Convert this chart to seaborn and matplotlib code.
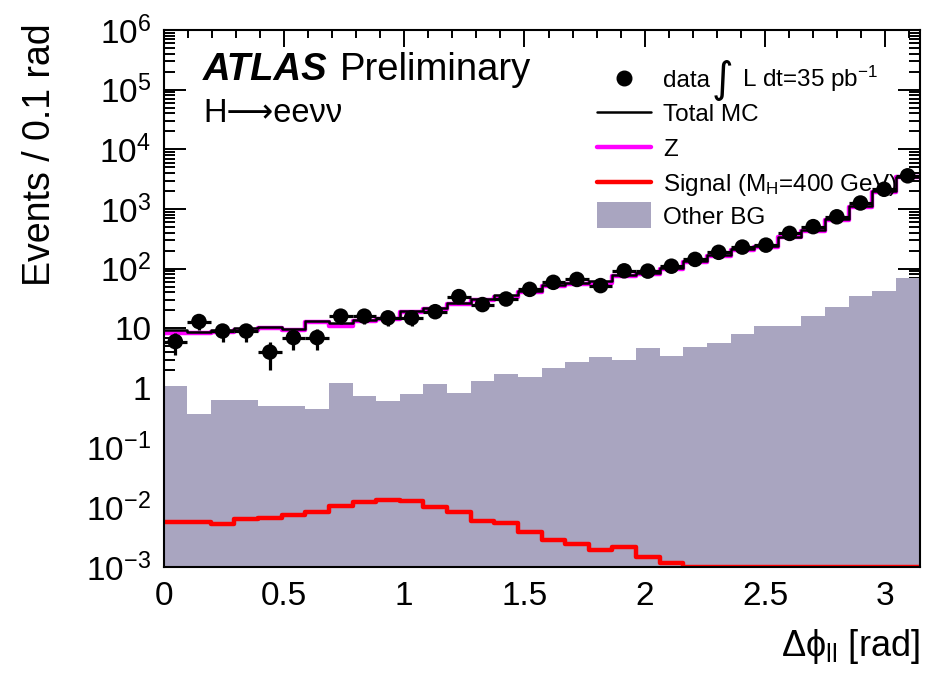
import numpy as np
import pandas as pd
import matplotlib
matplotlib.use("Agg")
import matplotlib.pyplot as plt
import seaborn as sns
from matplotlib.ticker import LogLocator, MultipleLocator, FuncFormatter, NullFormatter
from matplotlib.lines import Line2D
from matplotlib.patches import Rectangle

# ---------------- data ----------------
n_bins = 32
x_min, x_max = 0.0, np.pi

data_counts = [6, 13, 9, 9, 4, 7, 7, 16, 16, 15, 15, 19, 34, 25, 31, 45,
               59, 66, 52, 92, 91, 110, 143, 188, 230, 248, 390, 506, 740, 1260, 2140, 3600]
z_bkg = [8.4, 8.4, 8.8, 9.35, 10.2, 9.35, 12.6, 11.0, 13.2, 14.2, 18.6, 20.8, 25.5, 29.8, 33.8, 41,
         52, 55, 58, 75, 81, 98, 127, 162, 205, 228, 334, 432, 650, 1090, 1950, 3380]
other_bg = [1.09, 0.37, 0.62, 0.62, 0.49, 0.50, 0.44, 1.2, 0.73, 0.61, 0.80, 1.15, 0.83, 1.29, 1.72, 1.52,
            2.14, 2.7, 3.3, 2.9, 4.7, 3.4, 4.9, 5.7, 8.0, 10.8, 10.8, 16.3, 23, 35, 42.6, 69]
signal = [0.0056, 0.0056, 0.0053, 0.0063, 0.0066, 0.0075, 0.0085, 0.0107, 0.0122, 0.0131, 0.0126,
          0.0103, 0.0084, 0.0058, 0.0055, 0.0039, 0.0028, 0.0024, 0.0019, 0.0022, 0.00146, 0.00116,
          0, 0, 0, 0, 0, 0, 0, 0, 0, 0]

x_ticks = [0, 0.5, 1, 1.5, 2, 2.5, 3]
x_tick_labels = ["0", "0.5", "1", "1.5", "2", "2.5", "3"]
y_min, y_max = 1e-3, 1e6

legend_labels = ["data", "Total MC", "Z", r"Signal (M$_{\mathrm{H}}$=400 GeV)", "Other BG"]
lumi_label = "L dt=35 pb$^{-1}$"

# ---------------- style ----------------
sns.set_theme(style="ticks")
plt.rcParams["font.family"] = ["Liberation Sans", "DejaVu Sans"]
plt.rcParams["mathtext.fontset"] = "custom"
plt.rcParams["mathtext.rm"] = "Liberation Sans"
plt.rcParams["mathtext.it"] = "Liberation Sans:italic"
plt.rcParams["mathtext.bf"] = "Liberation Sans:bold"
for k in ["text.color", "axes.labelcolor", "xtick.color", "ytick.color", "axes.edgecolor"]:
    plt.rcParams[k] = "black"

gray = "#a9a5c0"
magenta = "#ff00ff"
red = "#ff0000"

edges = np.linspace(x_min, x_max, n_bins + 1)
bin_edges = [float(e) for e in edges]
centers = 0.5 * (edges[:-1] + edges[1:])
half_w = 0.5 * (edges[1:] - edges[:-1])

df = pd.DataFrame({
    "x": centers,
    "data": np.array(data_counts, float),
    "z": np.array(z_bkg, float),
    "other": np.array(other_bg, float),
    "signal": np.array(signal, float),
})
df["total"] = df["z"] + df["other"]
df["signal_draw"] = df["signal"].clip(lower=y_min)

W, H = 930, 676
fig = plt.figure(figsize=(W / 100, H / 100), dpi=100)
ax = fig.add_axes([163.5 / W, 1 - 567 / H, (919.5 - 163.5) / W, (567 - 30) / H])

sns.histplot(data=df, x="x", weights="other", bins=bin_edges, element="step", fill=True,
             color=gray, alpha=1, linewidth=0, ax=ax)
sns.histplot(data=df, x="x", weights="signal_draw", bins=bin_edges, element="step", fill=False,
             color=red, linewidth=3.2, ax=ax)
sns.histplot(data=df, x="x", weights="z", bins=bin_edges, element="step", fill=False,
             color=magenta, linewidth=3.2, ax=ax)
sns.histplot(data=df, x="x", weights="total", bins=bin_edges, element="step", fill=False,
             color="black", linewidth=1.8, ax=ax)

ax.errorbar(df["x"], df["data"], xerr=half_w, yerr=np.sqrt(df["data"]), fmt="none",
            ecolor="black", elinewidth=2.3, capsize=0, zorder=5)
sns.scatterplot(data=df, x="x", y="data", color="black", s=125, edgecolor="none", zorder=6, ax=ax)

ax.set_yscale("log")
ax.set_xlim(x_min, x_max)
ax.set_ylim(y_min, y_max)

# ticks
ax.set_xticks(x_ticks)
ax.set_xticklabels(x_tick_labels)
ax.xaxis.set_minor_locator(MultipleLocator(0.1))
ax.yaxis.set_major_locator(LogLocator(base=10, numticks=20))
ax.yaxis.set_minor_locator(LogLocator(base=10, subs=np.arange(2, 10), numticks=20))
ax.yaxis.set_minor_formatter(NullFormatter())


def yfmt(v, pos):
    e = int(round(np.log10(v)))
    if e == 0:
        return "1"
    if e == 1:
        return "10"
    return r"$10^{%d}$" % e


ax.yaxis.set_major_formatter(FuncFormatter(yfmt))
ax.tick_params(axis="both", which="both", direction="in", top=True, right=True, width=1.4, colors="black")
ax.tick_params(axis="x", which="major", length=12, pad=10, labelsize=24)
ax.tick_params(axis="x", which="minor", length=6)
ax.tick_params(axis="y", which="major", length=16, pad=9, labelsize=24)
ax.tick_params(axis="y", which="minor", length=8)
for s in ax.spines.values():
    s.set_linewidth(1.5)
    s.set_color("black")

ax.set_xlabel("\u0394\u03d5$_{\\mathrm{ll}}$ [rad]", fontsize=26, loc="right")
ax.xaxis.set_label_coords(1.0, -0.112)
ax.set_ylabel("Events / 0.1 rad", fontsize=27, loc="top")
ax.yaxis.set_label_coords(-0.14, 1.012)


def fy(py):
    return 1 - py / H


# titles
fig.text(203 / W, fy(80), "ATLAS", fontsize=27.5, fontweight="bold", fontstyle="italic",
         va="baseline", ha="left")
fig.text(340 / W, fy(80), "Preliminary", fontsize=27.5, va="baseline", ha="left")
fig.text(203 / W, fy(122), "H\u27f6ee\u03bd\u03bd", fontsize=23.5, va="baseline", ha="left",
         family=["Liberation Sans", "DejaVu Sans"])

# legend (ROOT-style, laid out row by row)
row_y = [78, 112, 147, 182, 215]
h_x0, h_x1, txt_x = 597, 651, 663
leg_fs = 17.5
base_off = 0.716 * leg_fs * 100 / 72 / 2

fig.add_artist(Line2D([(h_x0 + h_x1) / 2 / W], [fy(row_y[0])], marker="o", markersize=10.5,
                      color="black", linestyle="none", transform=fig.transFigure))
for yy, col, lw in [(row_y[1], "black", 1.8), (row_y[2], magenta, 3.2), (row_y[3], red, 3.2)]:
    fig.add_artist(Line2D([h_x0 / W, h_x1 / W], [fy(yy), fy(yy)], color=col, linewidth=lw,
                          transform=fig.transFigure))
fig.add_artist(Rectangle((h_x0 / W, fy(row_y[4] + 13)), (h_x1 - h_x0) / W, 26 / H,
                         facecolor=gray, edgecolor="none", transform=fig.transFigure))

for yy, lab in zip(row_y, legend_labels):
    fig.text(txt_x / W, fy(yy + base_off), lab, fontsize=leg_fs, va="baseline", ha="left")

fig.text(722 / W, fy(80), "\u222b", fontsize=30, ha="center", va="center", family=["DejaVu Sans"])
fig.text(742 / W, fy(row_y[0] + base_off), lumi_label, fontsize=leg_fs, va="baseline", ha="left")

fig.savefig("out.png", dpi=100)
